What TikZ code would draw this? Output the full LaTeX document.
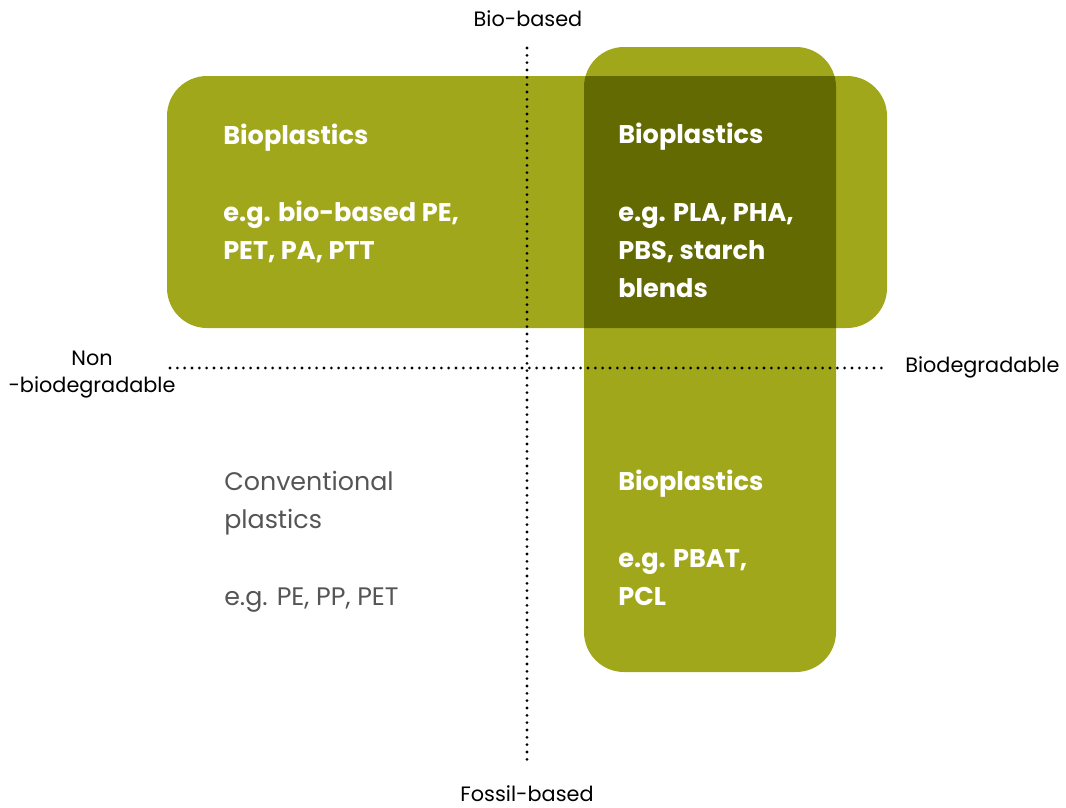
\documentclass[tikz,border=0pt]{standalone}
\usepackage{fontspec}
\setmainfont{Poppins}
\definecolor{olive}{HTML}{A1A71A}
\definecolor{darkolive}{HTML}{636A02}
\definecolor{graytxt}{HTML}{555555}
\begin{document}
\begin{tikzpicture}[x=0.75pt,y=-0.75pt,
  boxfill/.style={fill=olive,draw=none,rounded corners=30pt},
  dotline/.style={line width=2.3pt,line cap=round,dash pattern=on 0pt off 5.5pt,black},
  whitetxt/.style={anchor=base west,inner sep=0pt,text=white,font=\fontsize{19.2}{22}\selectfont\bfseries},
  graytext/.style={anchor=base west,inner sep=0pt,text=graytxt,font=\fontsize{19}{22}\selectfont},
  axislabel/.style={inner sep=0pt,text=black,font=\fontsize{15.6}{18}\selectfont}]
\useasboundingbox (0,0) rectangle (1066,807);
% boxes
\path[boxfill] (167,76) rectangle (887,328);
\path[boxfill] (584,47) rectangle (836,672);
\begin{scope}
\clip[rounded corners=30pt] (167,76) rectangle (887,328);
\path[fill=darkolive,rounded corners=30pt] (584,47) rectangle (836,672);
\end{scope}
% axes
\coordinate (vtop) at (527,48);
\coordinate (vbot) at (527,764);
\coordinate (hleft) at (170,368);
\coordinate (hright) at (885,368);
\draw[dotline] (vtop) -- (vbot);
\draw[dotline] (hleft) -- (hright);
% axis labels
\node[axislabel,anchor=base] (bio) at (528,26) {Bio-based};
\node[axislabel,anchor=base] (fos) at (527,801) {Fossil-based};
\node[axislabel,anchor=base west] (deg) at (905,372) {Biodegradable};
\node[axislabel,anchor=base] (non1) at (92,365) {Non};
\node[axislabel,anchor=base] (non2) at (92,392) {-biodegradable};
% texts
\node[whitetxt] (a1) at (223,144) {Bioplastics};
\node[whitetxt] (a2) at (223,221) {e.g. bio-based PE,};
\node[whitetxt] (a3) at (223,259) {PET, PA, PTT};
\node[whitetxt] (b1) at (618,143) {Bioplastics};
\node[whitetxt] (b2) at (618,221) {e.g. PLA, PHA,};
\node[whitetxt] (b3) at (618,259) {PBS, starch};
\node[whitetxt] (b4) at (618,297) {blends};
\node[whitetxt] (c1) at (618,490) {Bioplastics};
\node[whitetxt] (c2) at (618,567) {e.g. PBAT,};
\node[whitetxt] (c3) at (618,605) {PCL};
\node[graytext] (d1) at (224,490) {Conventional};
\node[graytext] (d2) at (224,528) {plastics};
\node[graytext] (d3) at (224,605) {e.g. PE, PP, PET};
\end{tikzpicture}
\end{document}
